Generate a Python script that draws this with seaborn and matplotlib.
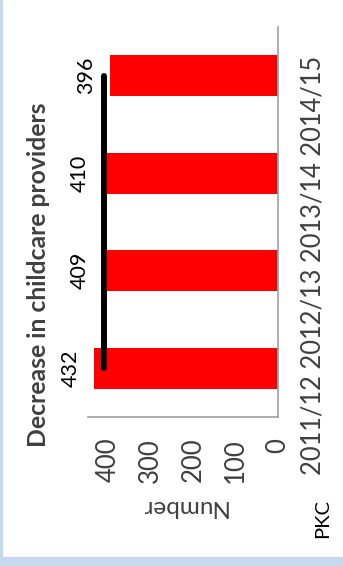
import matplotlib
matplotlib.use("Agg")
import matplotlib.pyplot as plt
from matplotlib.patches import Rectangle
import matplotlib.transforms as mtransforms
import pandas as pd
import seaborn as sns

# Childcare providers per year
years = ["2011/12", "2012/13", "2013/14", "2014/15"]
providers = [432, 409, 410, 396]
level = [409.5]                      # reference level drawn as the black bar
value_ticks = [0, 100, 200, 300, 400]

title = "Decrease in childcare providers"
axis_label = "Number"
credit = "PKC"

sns.set_style("white")
plt.rcParams["font.family"] = ["Lato", "DejaVu Sans"]

TEXT = "#404040"
W, H = 343, 566
fig = plt.figure(figsize=(W / 100, H / 100), dpi=100)
fig.patch.set_facecolor("white")

# page frame: thin blue edge on the left, band along the bottom
fig.patches.append(Rectangle((0, 0), 2 / W, 1, transform=fig.transFigure,
                             color="#c6d9f0", zorder=0))
fig.patches.append(Rectangle((0, 0), 1, 9 / H, transform=fig.transFigure,
                             color="#c6d9f0", zorder=0))

ax = fig.add_axes([88 / W, (H - 417) / H, 190 / W, 390 / H])

df = pd.DataFrame({"year": years, "providers": providers})
order = years[::-1]
sns.barplot(data=df, x="providers", y="year", order=order, orient="h",
            color="#ff0000", saturation=1, width=0.42, linewidth=0, ax=ax)

ax.set_xlim(447, 0)
ax.set_ylim(3.5, -0.5)

ypos = [order.index(y) for y in years]
ax.plot([level[0]] * len(years), ypos, color="black", lw=4.3,
        solid_capstyle="round", zorder=5)

# value labels sit a fixed distance beyond the end of each bar
label_shift = mtransforms.offset_copy(ax.transData, fig=fig, x=-24, y=0, units="dots")
for v, yp in zip(providers, ypos):
    ax.text(v, yp, str(v), transform=label_shift, rotation=90,
            ha="center", va="center", fontsize=15.5, color="black")

ax.set_xticks(value_ticks)
ax.set_xticklabels([str(t) for t in value_ticks], rotation=90, fontsize=18.5, color=TEXT)
ax.tick_params(axis="x", length=0, pad=15)
ax.set_yticks([])
ax.set_xlabel("")
ax.set_ylabel("")

for side in ("top", "left"):
    ax.spines[side].set_visible(False)
for side in ("right", "bottom"):
    ax.spines[side].set_color("#a0a0a0")
    ax.spines[side].set_linewidth(1.2)

fig.text(39 / W, 1 - 275 / H, title, rotation=90, ha="center", va="center",
         fontsize=17.8, fontweight="bold", color=TEXT)
fig.text(313 / W, 1 - 265 / H, " ".join(years), rotation=90, ha="center",
         va="center", fontsize=18.4, color=TEXT)
fig.text(183 / W, 1 - 506 / H, axis_label, rotation=180, ha="center",
         va="center", fontsize=17.5, color=TEXT)
fig.text(323 / W, 1 - 518 / H, credit, rotation=90, ha="center",
         va="center", fontsize=14.5, color="black")

fig.savefig("out.png", dpi=100)
